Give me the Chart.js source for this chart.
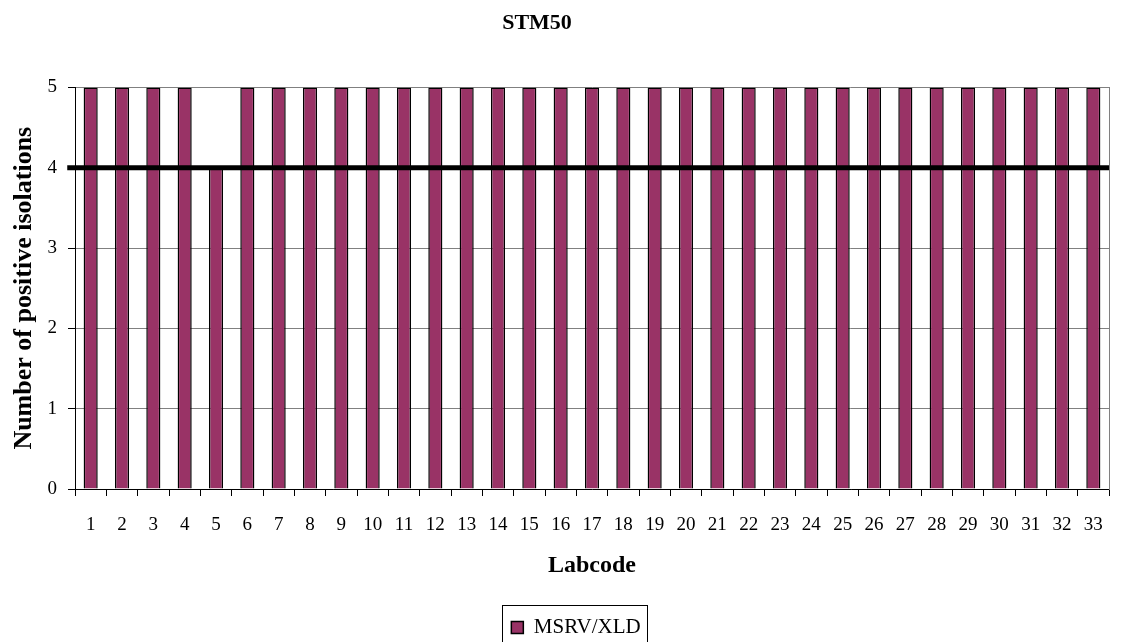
<!DOCTYPE html>
<html>
<head>
<meta charset="utf-8">
<script src="https://cdn.jsdelivr.net/npm/chart.js@4/dist/chart.umd.min.js"></script>
<style>
  html, body { margin: 0; padding: 0; background: #fff; }
  #wrap { width: 1121px; height: 642px; position: relative; }
</style>
</head>
<body>
<div id="wrap"><canvas id="c" width="1121" height="642"></canvas></div>
<script>
// Lab codes on the x axis
const labcodes = ['1','2','3','4','5','6','7','8','9','10','11','12','13','14','15','16','17',
  '18','19','20','21','22','23','24','25','26','27','28','29','30','31','32','33'];
// Number of positive isolations per lab (MSRV/XLD)
const msrvXld = [5,5,5,5,4,5,5,5,5,5,5,5,5,5,5,5,5,5,5,5,5,5,5,5,5,5,5,5,5,5,5,5,5];
// Minimum required level, drawn as a horizontal reference line
const limitValue = 4;
const yTicks = [0,1,2,3,4,5];

const serif = "'Liberation Serif', 'Times New Roman', serif";

// Nudges the title and legend boxes sideways after layout
const boxShift = {
  id: 'boxShift',
  afterLayout(chart) {
    const t = chart.titleBlock;
    if (t) { t.left -= 18; t.right -= 18; }
    const lg = chart.legend;
    if (lg) { lg.left += 21; lg.right += 21; }
  }
};

// Draws a thin frame around the legend entries
const legendFrame = {
  id: 'legendFrame',
  afterDraw(chart) {
    const lg = chart.legend;
    if (!lg || !lg.legendHitBoxes || !lg.legendHitBoxes.length) return;
    const hb = lg.legendHitBoxes[0];
    const ctx = chart.ctx;
    ctx.save();
    ctx.strokeStyle = '#000';
    ctx.lineWidth = 1;
    ctx.strokeRect(Math.round(hb.left - 9) + 0.5, Math.round(hb.top - 12) + 0.5,
                   Math.round(hb.width + 16), 60);
    ctx.restore();
  }
};

new Chart(document.getElementById('c'), {
  type: 'bar',
  data: {
    labels: labcodes,
    datasets: [
      {
        type: 'bar',
        label: 'MSRV/XLD',
        data: msrvXld,
        xAxisID: 'x',
        yAxisID: 'y',
        backgroundColor: '#993366',
        borderColor: '#000',
        borderWidth: 1.5,
        barPercentage: 0.45,
        categoryPercentage: 1,
        grouped: false,
        order: 1
      },
      {
        type: 'line',
        label: 'limit',
        data: [{x: -0.0075, y: limitValue}, {x: 1, y: limitValue}],
        xAxisID: 'xl',
        yAxisID: 'y',
        borderColor: '#000',
        borderWidth: 5,
        pointRadius: 0,
        clip: false,
        order: 0
      }
    ]
  },
  options: {
    responsive: false,
    animation: false,
    events: [],
    layout: { padding: { left: 0, right: 11, top: 0, bottom: -6 } },
    plugins: {
      tooltip: { enabled: false },
      title: {
        display: true,
        text: 'STM50',
        color: '#000',
        font: { family: serif, size: 22, weight: 'bold' },
        padding: { top: 10, bottom: 51 }
      },
      legend: {
        display: true,
        position: 'bottom',
        labels: {
          filter: (item) => item.text === 'MSRV/XLD',
          color: '#000',
          font: { family: serif, size: 21 },
          boxWidth: 12,
          boxHeight: 12,
          padding: 10
        }
      }
    },
    scales: {
      x: {
        type: 'category',
        position: 'bottom',
        offset: true,
        grid: { offset: true, drawOnChartArea: false, tickLength: 7, tickColor: '#000', tickWidth: 1 },
        border: { color: '#000', width: 1 },
        ticks: { color: '#000', font: { family: serif, size: 19 }, padding: 18, maxRotation: 0, autoSkip: false },
        title: {
          display: true,
          text: 'Labcode',
          color: '#000',
          font: { family: serif, size: 24, weight: 'bold' },
          padding: { top: 0, bottom: 27 }
        },
        afterFit(scale) {
          const lgH = scale.chart.legend ? scale.chart.legend.height : 0;
          scale.height = 642 + 6 - 489 - lgH;
        }
      },
      xl: {
        type: 'linear',
        display: false,
        offset: false,
        min: 0,
        max: 1
      },
      y: {
        type: 'linear',
        position: 'left',
        min: 0,
        max: 5,
        afterBuildTicks(scale) { scale.ticks = yTicks.map(v => ({ value: v })); },
        grid: { color: '#808080', lineWidth: 1, tickLength: 7, tickColor: '#000' },
        border: { color: '#000', width: 1 },
        ticks: { color: '#000', font: { family: serif, size: 19 }, padding: 11 },
        title: {
          display: true,
          text: 'Number of positive isolations',
          color: '#000',
          font: { family: serif, size: 26, weight: 'bold' },
          padding: { top: 9, bottom: 0 }
        },
        afterFit(scale) { scale.width = 75; }
      },
      y2: {
        type: 'linear',
        position: 'right',
        min: 0,
        max: 5,
        grid: { display: false },
        ticks: { display: false },
        border: { color: '#808080', width: 1 },
        afterFit(scale) { scale.width = 0; }
      }
    }
  },
  plugins: [boxShift, legendFrame]
});
</script>
</body>
</html>
